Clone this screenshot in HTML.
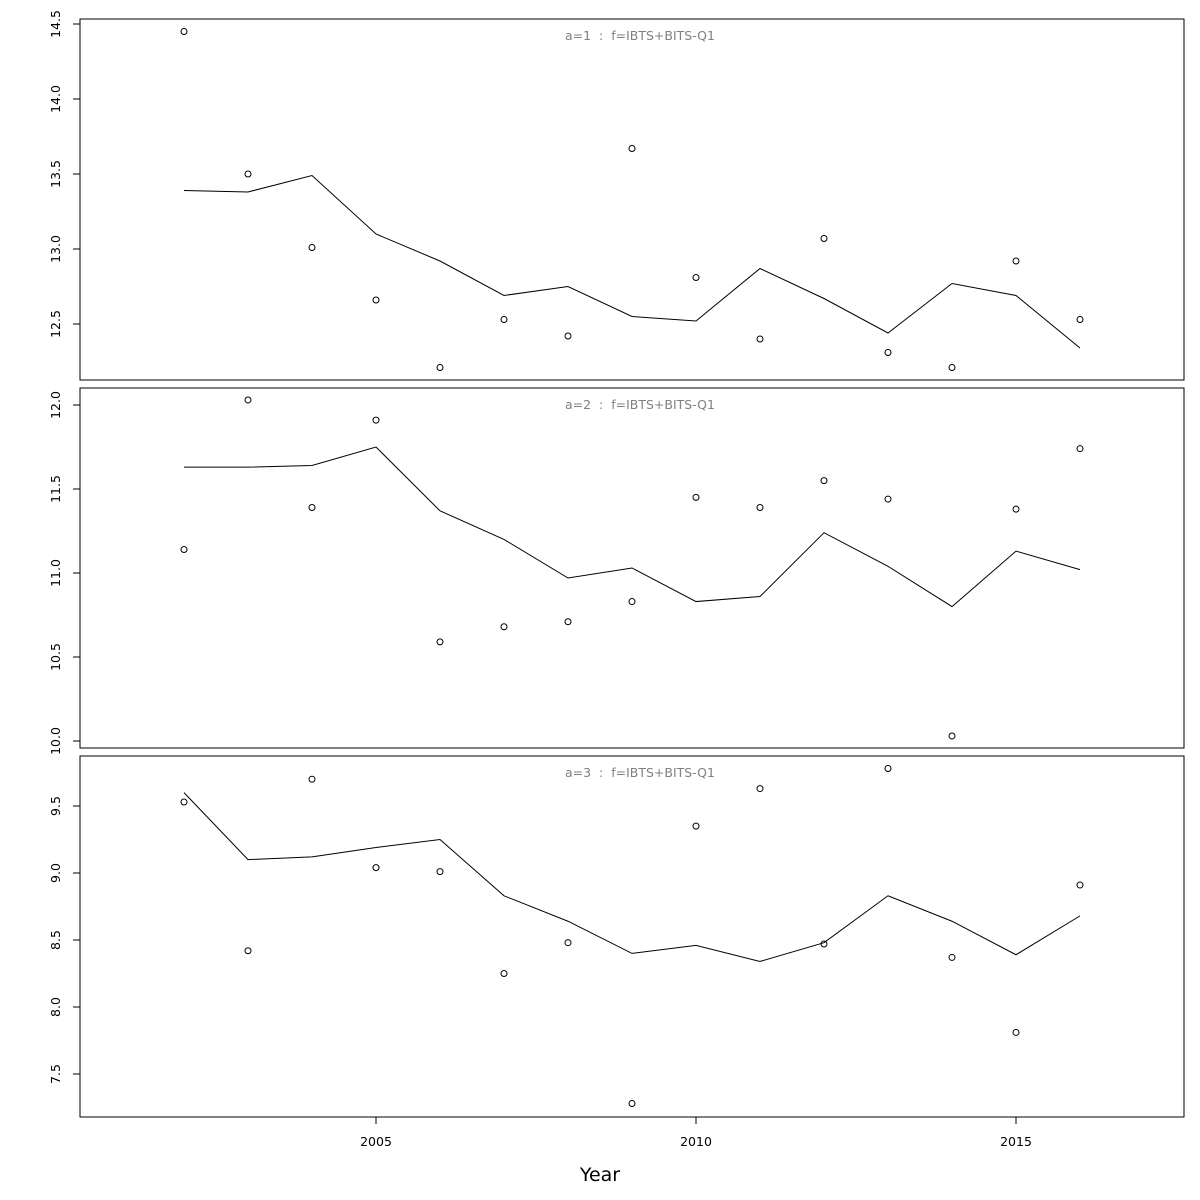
<!DOCTYPE html>
<html><head><meta charset="utf-8"><style>
body{margin:0;background:#fff}
svg{display:block;font-family:"DejaVu Sans","Liberation Sans",sans-serif}
</style></head><body>
<svg id="chart" width="1200" height="1200"></svg>
<script>
const years=[2002,2003,2004,2005,2006,2007,2008,2009,2010,2011,2012,2013,2014,2015,2016];
const obs1=[14.45,13.50,13.01,12.66,12.21,12.53,12.42,13.67,12.81,12.40,13.07,12.31,12.21,12.92,12.53];
const fit1=[13.39,13.38,13.49,13.10,12.92,12.69,12.75,12.55,12.52,12.87,12.67,12.44,12.77,12.69,12.34];
const obs2=[11.14,12.03,11.39,11.91,10.59,10.68,10.71,10.83,11.45,11.39,11.55,11.44,10.03,11.38,11.74];
const fit2=[11.63,11.63,11.64,11.75,11.37,11.20,10.97,11.03,10.83,10.86,11.24,11.04,10.80,11.13,11.02];
const obs3=[9.53,8.42,9.70,9.04,9.01,8.25,8.48,7.28,9.35,9.63,8.47,9.78,8.37,7.81,8.91];
const fit3=[9.60,9.10,9.12,9.19,9.25,8.83,8.64,8.40,8.46,8.34,8.48,8.83,8.64,8.39,8.68];
const ticks1=[12.5,13.0,13.5,14.0,14.5];
const ticks2=[10.0,10.5,11.0,11.5,12.0];
const ticks3=[7.5,8.0,8.5,9.0,9.5];
const xticks=[2005,2010,2015];
const titles=["a=1  :  f=IBTS+BITS-Q1","a=2  :  f=IBTS+BITS-Q1","a=3  :  f=IBTS+BITS-Q1"];

const NS="http://www.w3.org/2000/svg";
const svg=document.getElementById('chart');
function mk(t,a,p){const e=document.createElementNS(NS,t);for(const k in a)e.setAttribute(k,a[k]);(p||svg).appendChild(e);return e;}
const X=y=>376+(y-2005)*64;
const panels=[
 {top:19,bot:380,base:12.5,by:324,s:150,obs:obs1,fit:fit1,ticks:ticks1},
 {top:388,bot:748,base:10.0,by:741,s:168,obs:obs2,fit:fit2,ticks:ticks2},
 {top:756,bot:1117,base:7.5,by:1074,s:134,obs:obs3,fit:fit3,ticks:ticks3}
];
panels.forEach((p,i)=>{
 const g=mk('g',{});
 
 
 const Y=v=>p.by-(v-p.base)*p.s;
 const r=mk('rect',{x:80,y:p.top,width:1104,height:p.bot-p.top,fill:'none',stroke:'#000','stroke-width':1},g);
 
 
 const t=mk('text',{x:640,y:p.top+21,'text-anchor':'middle','font-size':12.5,fill:'#808080','xml:space':'preserve',style:'white-space:pre'},g);
 t.textContent=titles[i];
 
 
 p.ticks.forEach(v=>{
  const y=Y(v);
  mk('line',{x1:73,x2:80,y1:y,y2:y,stroke:'#000'},g);
  const l=mk('text',{x:0,y:0,'font-size':12.5,'text-anchor':'middle',transform:`translate(60,${y}) rotate(-90)`},g);
  l.textContent=v.toFixed(1);
  
  
 });
 const pl=mk('polyline',{points:years.map((yr,k)=>X(yr)+','+Y(p.fit[k])).join(' '),fill:'none',stroke:'#000','stroke-width':1},g);
 
 
 years.forEach((yr,k)=>{
  const c=mk('circle',{cx:X(yr),cy:Y(p.obs[k]),r:3,fill:'none',stroke:'#000','stroke-width':1},g);
  
  
 });
});
xticks.forEach(v=>{
 mk('line',{x1:X(v),x2:X(v),y1:1117,y2:1124,stroke:'#000'});
 const l=mk('text',{x:X(v),y:1146,'font-size':12.5,'text-anchor':'middle'});
 l.textContent=v;
 
 
});
const xt=mk('text',{x:600,y:1181,'font-size':19,'text-anchor':'middle'});
xt.textContent='Year';


</script>
</body></html>
